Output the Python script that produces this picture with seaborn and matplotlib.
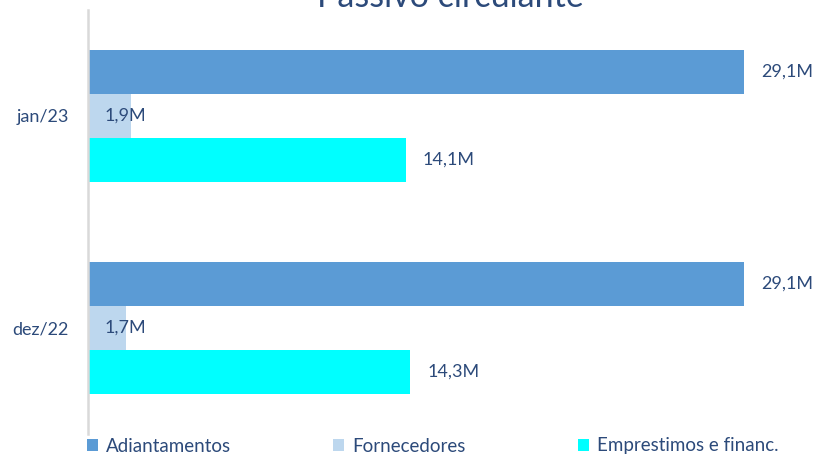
import matplotlib
matplotlib.use("Agg")
import matplotlib.pyplot as plt
import seaborn as sns
import pandas as pd
from matplotlib.patches import Patch

categories = ["jan/23", "dez/22"]
series = ["Adiantamentos", "Fornecedores", "Emprestimos e financ."]
adiantamentos = [29.1, 29.1]
fornecedores = [1.9, 1.7]
emprestimos = [14.1, 14.3]
value_labels = {"Adiantamentos": ["29,1M", "29,1M"],
                "Fornecedores": ["1,9M", "1,7M"],
                "Emprestimos e financ.": ["14,1M", "14,3M"]}
colors = ["#5B9BD5", "#BDD7EE", "#00FFFF"]
text_color = "#2C4A7A"

sns.set_theme(style="white")
plt.rcParams["font.family"] = ["Lato", "DejaVu Sans"]

rows = []
for s, vals in zip(series, [adiantamentos, fornecedores, emprestimos]):
    for c, v in zip(categories, vals):
        rows.append({"cat": c, "serie": s, "valor": v})
df = pd.DataFrame(rows)

fig = plt.figure(figsize=(8.15, 4.55), dpi=100)
W, H = 815, 455
ax = fig.add_axes([88 / W, (H - 434) / H, (W - 88) / W, 424 / H])

sns.barplot(data=df, y="cat", x="valor", hue="serie", order=categories,
            hue_order=series, palette=colors, orient="h", width=0.623,
            saturation=1, ax=ax, legend=False, linewidth=0)

ax.set_xlim(0, (W - 88) / 22.54)
ax.set_ylim(1.5, -0.5)
ax.set_xlabel("")
ax.set_ylabel("")
ax.set_xticks([])
for sp in ["top", "right", "bottom"]:
    ax.spines[sp].set_visible(False)
ax.spines["left"].set_color("#D9D9D9")
ax.spines["left"].set_linewidth(1.8)
ax.tick_params(axis="y", length=0, pad=14, labelsize=13, labelcolor=text_color)

for cont, s in zip(ax.containers, series):
    for patch, lab in zip(cont.patches, value_labels[s]):
        w = patch.get_width()
        yc = patch.get_y() + patch.get_height() / 2
        x = w + 0.75 if w > 5 else 0.72
        ax.text(x, yc, lab, ha="left", va="center", fontsize=13, color=text_color)

fig.text(450 / W, 1 - 7 / H, "Passivo circulante", ha="center", va="baseline",
         fontsize=24.5, color=text_color)

for s, col, xpos in zip(series, colors, [87, 333, 578]):
    fig.legend(handles=[Patch(facecolor=col, edgecolor="none")], labels=[s],
               loc="center left", bbox_to_anchor=(xpos / W, 1 - 446 / H),
               frameon=False, fontsize=13.5, handlelength=0.6, handleheight=0.6,
               handletextpad=0.4, borderaxespad=0, borderpad=0,
               labelcolor=text_color)

fig.savefig("out.png", dpi=100)
